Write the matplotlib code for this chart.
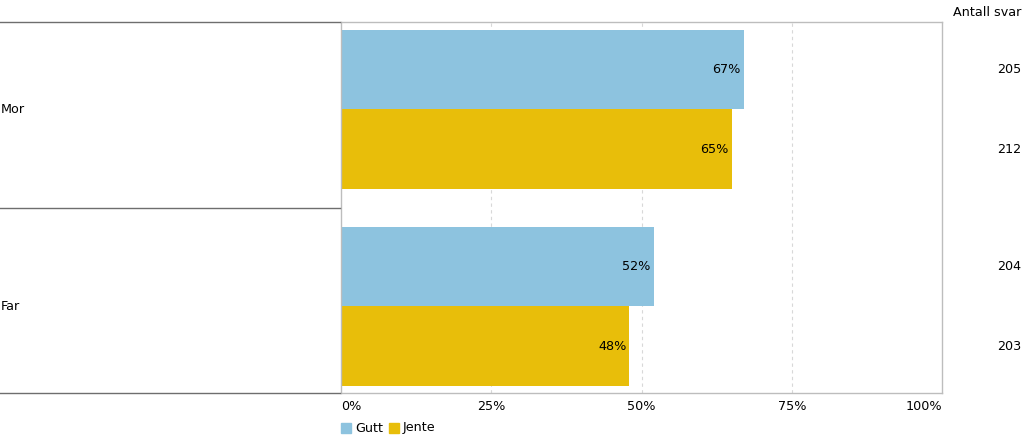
import matplotlib
matplotlib.use("Agg")
import matplotlib.pyplot as plt
import matplotlib.transforms as mtrans
from matplotlib.patches import Rectangle

categories = ["Mor", "Far"]
series = ["Gutt", "Jente"]
gutt = [67, 52]
jente = [65, 48]
n_gutt = [205, 204]
n_jente = [212, 203]
xticks = [0, 25, 50, 75, 100]
xticklabels = ["0%", "25%", "50%", "75%", "100%"]

colors = {"Gutt": "#8DC3DF", "Jente": "#E8BE0A"}
plt.rcParams['font.family'] = ['DejaVu Sans']
FS = 9.2

W, H = 1023, 438
fig = plt.figure(figsize=(W / 100, H / 100), dpi=100)
ax_l, ax_r, ax_t, ax_b = 341, 942, 22, 393
ax = fig.add_axes([ax_l / W, 1 - ax_b / H, (ax_r - ax_l) / W, (ax_b - ax_t) / H])
ax.set_xlim(0, 100)
ax.set_ylim(2, 0)

trans_fy = mtrans.blended_transform_factory(fig.transFigure, ax.transData)
trans_xa = mtrans.blended_transform_factory(ax.transData, ax.transAxes)

centers = [0.471, 1.533]
off = 0.215
bh = 0.431
for i, cat in enumerate(categories):
    for val, n, s, sign in [(gutt[i], n_gutt[i], "Gutt", -1), (jente[i], n_jente[i], "Jente", 1)]:
        y = centers[i] + sign * off
        ax.barh(y, val, height=bh, color=colors[s], zorder=2)
        ax.text(val - 0.5, y, f"{val}%", ha="right", va="center", fontsize=FS, color="black", zorder=3)
        ax.text(1021 / W, y, str(n), transform=trans_fy, ha="right", va="center", fontsize=FS, clip_on=False)
    ax.text(0.5 / W, centers[i], cat, transform=trans_fy, ha="left", va="center", fontsize=FS, clip_on=False)

for g in [25, 50, 75]:
    ax.axvline(g, color="#d8d8d8", lw=0.8, ls=(0, (3, 3)), zorder=1)

for s in ax.spines.values():
    s.set_color("#bdbdbd")
    s.set_linewidth(1)
ax.set_xticks([])
ax.set_yticks([])

# tick labels
for v, lab in zip(xticks, xticklabels):
    ha = "left" if v == 0 else ("right" if v == 100 else "center")
    ax.text(v, -14 / (ax_b - ax_t), lab, transform=trans_xa,
            ha=ha, va="center", fontsize=FS, clip_on=False)

# left category separators
for yp in [22, 208, 393]:
    fig.add_artist(plt.Line2D([0, 340 / W], [1 - yp / H, 1 - yp / H], color="#6e6e6e", lw=1))

fig.text(1021 / W, 1 - 12 / H, "Antall svar", ha="right", va="center", fontsize=FS)

# legend
lx = 341
for s in series:
    fig.add_artist(Rectangle((lx / W, 1 - 433 / H), 10 / W, 10 / H, color=colors[s], transform=fig.transFigure))
    fig.text((lx + 14) / W, 1 - 428 / H, s, ha="left", va="center", fontsize=FS)
    lx += 48

fig.savefig("out.png", dpi=100)
